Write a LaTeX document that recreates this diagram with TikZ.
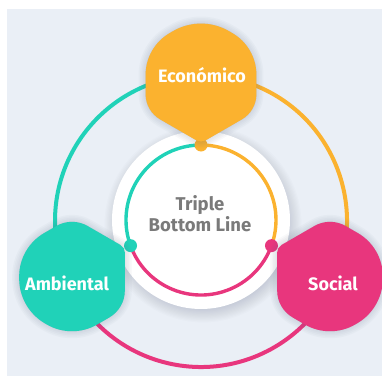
\documentclass[tikz,border=0pt]{standalone}
\usepackage{fontspec}
\setmainfont{Fira Sans}
\usetikzlibrary{calc}
\definecolor{bgc}{HTML}{EAEFF6}
\definecolor{eco}{HTML}{FBB22F}
\definecolor{amb}{HTML}{20D2B8}
\definecolor{soc}{HTML}{E8367D}
\definecolor{txtgray}{HTML}{7A7A7A}
\definecolor{shd}{HTML}{5A6A80}
\newcommand\hexfill[8]{%
  \path[#1] ($(#2a)!#3!(#2f)$) .. controls ($(#2a)!{0.381*#3}!(#2f)$) and ($(#2a)!{0.381*#3}!(#2b)$) .. ($(#2a)!#3!(#2b)$)
  -- ($(#2b)!#4!(#2a)$) .. controls ($(#2b)!{0.381*#4}!(#2a)$) and ($(#2b)!{0.381*#4}!(#2c)$) .. ($(#2b)!#4!(#2c)$)
  -- ($(#2c)!#5!(#2b)$) .. controls ($(#2c)!{0.381*#5}!(#2b)$) and ($(#2c)!{0.381*#5}!(#2d)$) .. ($(#2c)!#5!(#2d)$)
  -- ($(#2d)!#6!(#2c)$) .. controls ($(#2d)!{0.381*#6}!(#2c)$) and ($(#2d)!{0.381*#6}!(#2e)$) .. ($(#2d)!#6!(#2e)$)
  -- ($(#2e)!#7!(#2d)$) .. controls ($(#2e)!{0.381*#7}!(#2d)$) and ($(#2e)!{0.381*#7}!(#2f)$) .. ($(#2e)!#7!(#2f)$)
  -- ($(#2f)!#8!(#2e)$) .. controls ($(#2f)!{0.381*#8}!(#2e)$) and ($(#2f)!{0.381*#8}!(#2a)$) .. ($(#2f)!#8!(#2a)$)
  -- cycle;}
\newcommand\hexverts[4]{% prefix, cx, cy, R
  \coordinate (#1a) at ($(#2,#3)+(90:#4)$);
  \coordinate (#1b) at ($(#2,#3)+(150:#4)$);
  \coordinate (#1c) at ($(#2,#3)+(210:#4)$);
  \coordinate (#1d) at ($(#2,#3)+(270:#4)$);
  \coordinate (#1e) at ($(#2,#3)+(330:#4)$);
  \coordinate (#1f) at ($(#2,#3)+(30:#4)$);}
\newcommand\hexshape[8]{% colour, prefix, d1..d6
  \begin{scope}[shift={(1,-4)}]
    \foreach \w in {14,11,8,5,2}{\hexfill{fill=shd,draw=shd,line width=\w pt,opacity=0.035,line join=round}{#2}{#3}{#4}{#5}{#6}{#7}{#8}}
  \end{scope}
  \hexfill{fill=#1}{#2}{#3}{#4}{#5}{#6}{#7}{#8}}
\tikzset{
  ring/.style={line width=4pt},
  iring/.style={line width=3.4pt},
  lab/.style={text=white,font=\fontsize{18}{20}\selectfont\bfseries,inner sep=0pt},
  mid/.style={text=txtgray,font=\fontsize{18.5}{21}\selectfont\bfseries,inner sep=0pt,align=center}
}
\begin{document}
\begin{tikzpicture}[x=1pt,y=1pt]
\useasboundingbox (0,0) rectangle (382,376);
\fill[white] (0,0) rectangle (382,376);
\fill[bgc] (7,0) rectangle (382,367);
\coordinate (O) at (201,155);
% outer ring
\draw[ring,amb] ($(O)+(90:146)$) arc[start angle=90,end angle=210,radius=146];
\draw[ring,eco] ($(O)+(-30:146)$) arc[start angle=-30,end angle=90,radius=146];
\draw[ring,soc] ($(O)+(210:146)$) arc[start angle=210,end angle=330,radius=146];
% inner white circle with soft shadow
\foreach \k in {1,...,12}{\fill[shd,opacity=0.018] (203,152) circle[radius=84+\k*1.2];}
\coordinate (I) at (201,156);
\fill[white] (I) circle[radius=89];
\draw[iring,amb] ($(I)+(90:75)$) arc[start angle=90,end angle=200,radius=75];
\draw[iring,eco] ($(I)+(-20:75)$) arc[start angle=-20,end angle=90,radius=75];
\draw[iring,soc] ($(I)+(200:75)$) arc[start angle=200,end angle=340,radius=75];
\fill[eco] ($(I)+(90:75)$) circle[radius=6.5];
\fill[amb] ($(I)+(200:75)$) circle[radius=6.5];
\fill[soc] ($(I)+(340:75)$) circle[radius=6.5];
% shapes
\hexverts{E}{201}{297}{64}
\hexshape{eco}{E}{32pt}{28pt}{17pt}{5pt}{17pt}{28pt}
\hexverts{A}{72}{98}{61}
\hexshape{amb}{A}{18pt}{29pt}{30pt}{29pt}{18pt}{5pt}
\hexverts{S}{330}{98}{61}
\hexshape{soc}{S}{18pt}{5pt}{18pt}{29pt}{30pt}{29pt}
% texts
\node[lab] (teco) at (202,301) {Económico};
\node[lab] (tamb) at (67,93) {Ambiental};
\node[lab] (tsoc) at (333,93) {Social};
\node[mid] (tmid) at (200,162) {Triple\\Bottom Line};
\end{tikzpicture}
\end{document}
